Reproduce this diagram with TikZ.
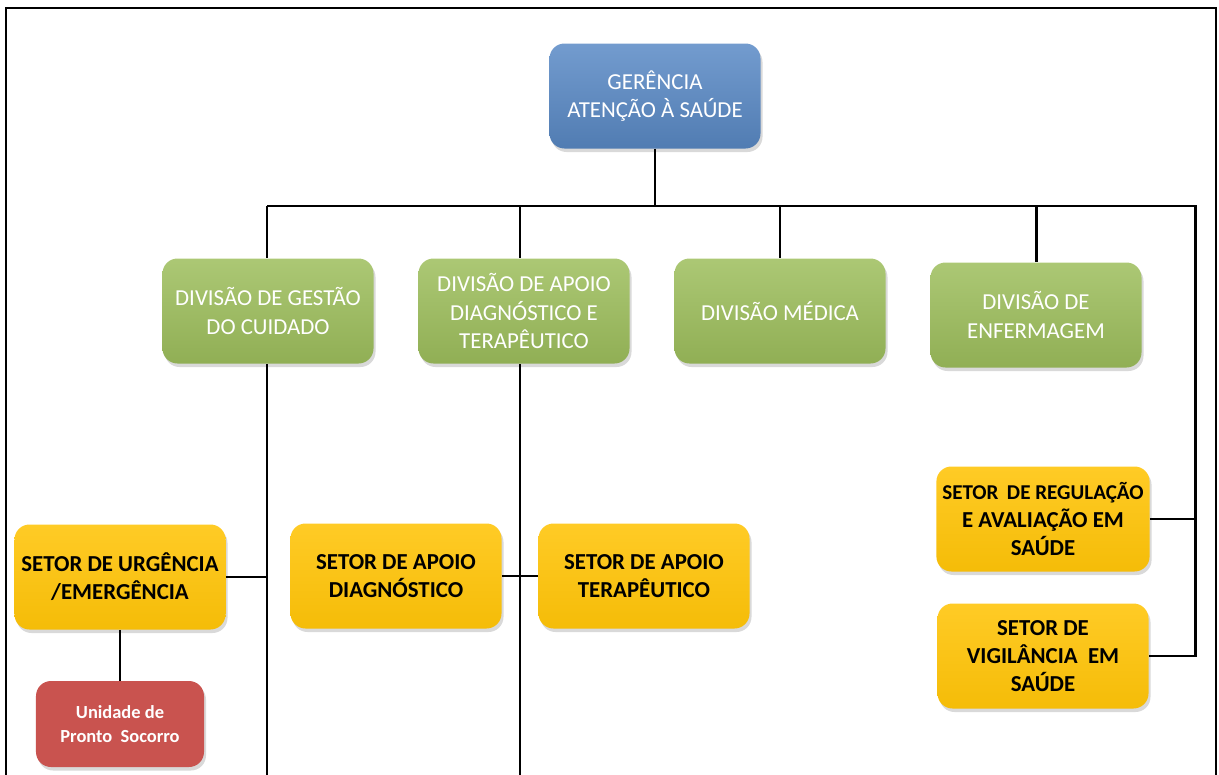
\documentclass[tikz,border=0pt]{standalone}
\usepackage{fontspec}
\setmainfont{Carlito}
\usetikzlibrary{positioning,shadows}

\definecolor{gerblue}{HTML}{5A8AC6}
\definecolor{divgreen}{HTML}{9DBE5C}
\definecolor{setyellow}{HTML}{FFC408}
\definecolor{unired}{HTML}{C9534F}

\begin{document}
\begin{tikzpicture}[node distance=5.12cm,on grid,
    box/.style={rounded corners=0.3cm,minimum width=4.22cm,minimum height=2.1cm,
        align=center,font=\fontsize{13}{16}\selectfont,
        drop shadow={opacity=0.3,shadow xshift=0.04cm,shadow yshift=-0.07cm}},
    gerbox/.style={box,top color=gerblue!85!white,bottom color=gerblue!90!black,text=white},
    divbox/.style={box,top color=divgreen!85!white,bottom color=divgreen!92!black,text=white},
    setbox/.style={box,top color=setyellow!88!white,bottom color=setyellow!96!black,text=black,
        font=\fontsize{13}{16}\selectfont\bfseries},
    unibox/.style={box,minimum width=3.36cm,minimum height=1.72cm,fill=unired,text=white,
        font=\fontsize{10.5}{14}\selectfont\bfseries},
    link/.style={line width=1.7pt},
    frame/.style={line width=1.5pt}]
    \useasboundingbox (0,0) rectangle (24.38,-15.5);
    \draw[frame] (0.12,-15.5) -- (0.12,-0.16) -- (24.32,-0.16) -- (24.32,-15.5);

    \node[gerbox] (ger) at (13.10,-1.92) {GERÊNCIA\\ATENÇÃO À SAÚDE};

    \node[divbox] (gestao) at (5.36,-6.22) {DIVISÃO DE GESTÃO\\DO CUIDADO};
    \node[divbox] [right=of gestao] (apoio) {DIVISÃO DE APOIO\\DIAGNÓSTICO E\\TERAPÊUTICO};
    \node[divbox] [right=of apoio] (medica) {DIVISÃO MÉDICA};
    \node[divbox] [right=of medica,yshift=-0.08cm] (enferm) {DIVISÃO DE\\ENFERMAGEM};

    \node[setbox] (urg) at (2.40,-11.54) {SETOR DE URGÊNCIA\\/EMERGÊNCIA};
    \node[setbox] (diag) at (7.92,-11.52) {SETOR DE APOIO\\DIAGNÓSTICO};
    \node[setbox] (terap) at (12.88,-11.52) {SETOR DE APOIO\\TERAPÊUTICO};
    \node[setbox] (regul) at (20.86,-10.38)
        {{\fontsize{12}{16}\selectfont SETOR\hspace{0.4em}DE REGULAÇÃO}\\E AVALIAÇÃO EM\\SAÚDE};
    \node[setbox] (vigil) at (20.86,-13.12) {SETOR DE\\VIGILÂNCIA\hspace{0.45em}EM\\SAÚDE};

    \node[unibox] (pronto) at (2.40,-14.48) {Unidade de\\Pronto\ \ Socorro};

    \coordinate (busL) at (5.34,-4.12);
    \coordinate (busR) at (23.90,-4.12);
    \coordinate (endG) at (5.34,-15.5);
    \coordinate (endA) at (10.40,-15.5);

    \draw[link] (ger.south) -- (ger.south |- busL);
    \draw[link] (busL) -- (busR) -- (busR |- vigil.east) -- (vigil.east);
    \draw[link] (regul.east) -- (regul.east -| busR);
    \draw[link] (busL) -- (busL |- gestao.north);
    \draw[link] (endA |- busL) -- (endA |- apoio.north);
    \draw[link] (medica.north |- busL) -- (medica.north);
    \draw[link] (enferm.north |- busL) -- (enferm.north);
    \draw[link] (endG |- gestao.south) -- (endG);
    \draw[link] (endA |- apoio.south) -- (endA);
    \draw[link] (urg.east) -- (urg.east -| endG);
    \draw[link] (diag.east) -- (terap.west);
    \draw[link] (urg.south) -- (pronto.north);
\end{tikzpicture}
\end{document}
